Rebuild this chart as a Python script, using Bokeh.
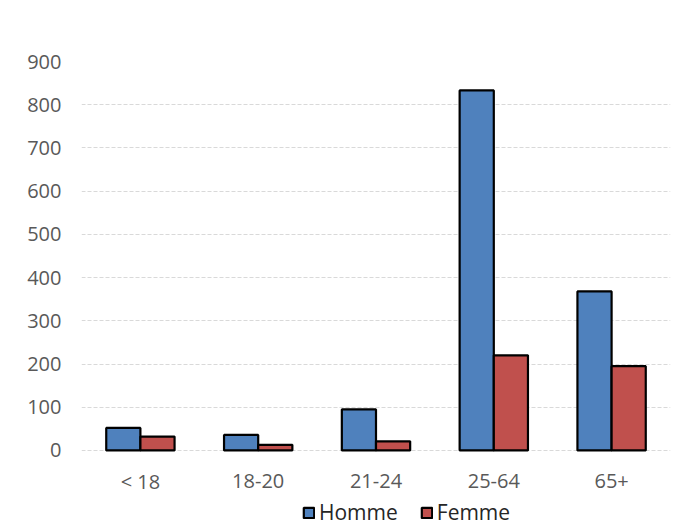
from bokeh.plotting import figure
from bokeh.models import ColumnDataSource, Range1d, FactorRange, Legend, LegendItem, FixedTicker
from bokeh.core.properties import value
from bokeh.transform import dodge
from bokeh.embed import file_html
from bokeh.resources import INLINE

categories = ["< 18", "18-20", "21-24", "25-64", "65+"]
homme = [52, 36, 95, 833, 368]
femme = [32, 13, 21, 220, 195]
y_ticks = [0, 100, 200, 300, 400, 500, 600, 700, 800, 900]

src = ColumnDataSource(dict(cat=categories, homme=homme, femme=femme,
                            base=[0] * len(categories)))

p = figure(x_range=FactorRange(*categories), y_range=Range1d(-176, 900),
           width=674, height=526, output_backend="svg", toolbar_location=None,
           x_axis_location=None,
           min_border_left=81, min_border_right=4, min_border_top=61, min_border_bottom=0)
p.outline_line_color = None
p.background_fill_color = "white"
p.border_fill_color = "white"

r1 = p.vbar(x=dodge("cat", -0.145, range=p.x_range), top="homme", width=0.29, source=src,
            fill_color="#4F81BD", line_color="black", line_width=2.2)
r2 = p.vbar(x=dodge("cat", 0.145, range=p.x_range), top="femme", width=0.29, source=src,
            fill_color="#C0504D", line_color="black", line_width=2.2)

# category labels under the baseline
p.text(x="cat", y="base", text="cat", source=src, y_offset=31,
       text_align="center", text_baseline="middle",
       text_font=value("Open Sans"), text_font_size="20px", text_color="#595959")

p.xgrid.grid_line_color = None
p.ygrid.grid_line_color = "#d9d9d9"
p.ygrid.grid_line_dash = "4 2"
p.ygrid.grid_line_width = 1
p.yaxis.ticker = FixedTicker(ticks=y_ticks)

ax = p.yaxis[0]
ax.axis_line_color = None
ax.major_tick_line_color = None
ax.minor_tick_line_color = None
ax.major_label_text_font = "Open Sans"
ax.major_label_text_font_size = "20px"
ax.major_label_text_color = "#595959"
ax.major_label_standoff = 14

legend = Legend(items=[LegendItem(label="Homme", renderers=[r1]),
                       LegendItem(label="Femme", renderers=[r2])],
                orientation="horizontal", location=(221, 0),
                label_text_font="Open Sans", label_text_font_size="21px",
                label_text_color="#262626", glyph_width=13, glyph_height=13,
                label_standoff=4, spacing=22, padding=0, margin=0,
                border_line_color=None, background_fill_alpha=0)
p.add_layout(legend, "center")

open("out.html", "w").write(file_html(p, INLINE))
